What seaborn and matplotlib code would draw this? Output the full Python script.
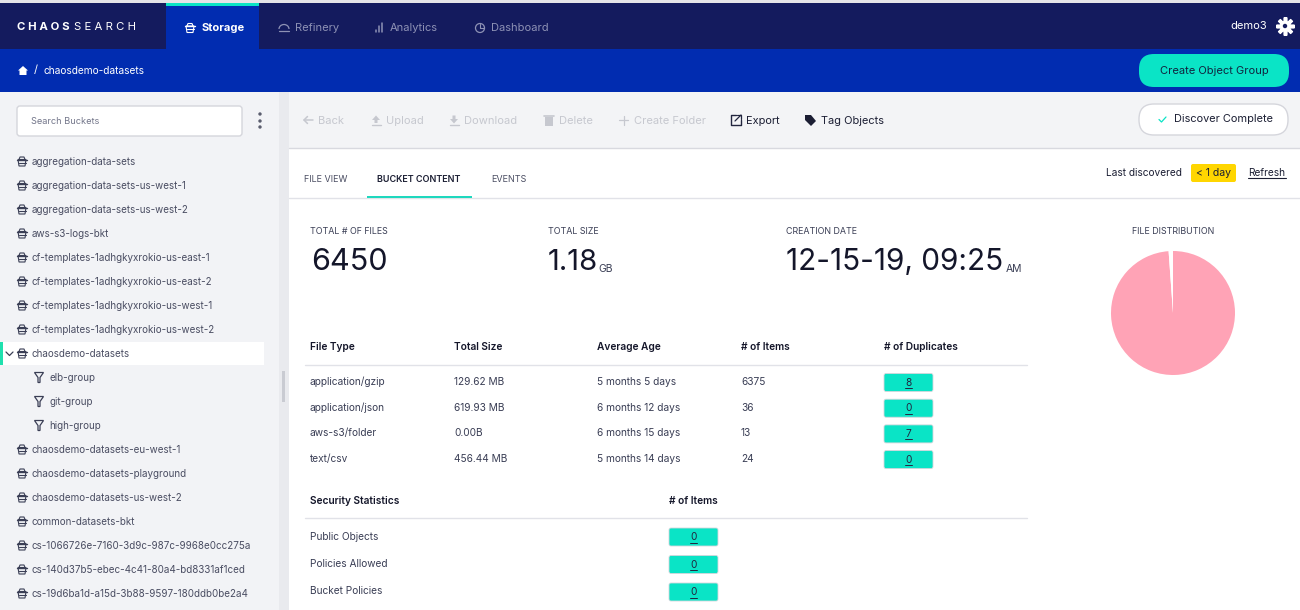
import matplotlib
matplotlib.use('Agg')
import matplotlib.pyplot as plt
import seaborn as sns
from matplotlib.patches import Rectangle, FancyBboxPatch, Circle, Polygon, Arc

bucket_names = ['aggregation-data-sets', 'aggregation-data-sets-us-west-1', 'aggregation-data-sets-us-west-2',
                'aws-s3-logs-bkt', 'cf-templates-1adhgkyxrokio-us-east-1', 'cf-templates-1adhgkyxrokio-us-east-2',
                'cf-templates-1adhgkyxrokio-us-west-1', 'cf-templates-1adhgkyxrokio-us-west-2', 'chaosdemo-datasets',
                'elb-group', 'git-group', 'high-group', 'chaosdemo-datasets-eu-west-1',
                'chaosdemo-datasets-playground', 'chaosdemo-datasets-us-west-2', 'common-datasets-bkt',
                'cs-1066726e-7160-3d9c-987c-9968e0cc275a', 'cs-140d37b5-ebec-4c41-80a4-bd8331af1ced',
                'cs-19d6ba1d-a15d-3b88-9597-180ddb0be2a4']
group_names = ['elb-group', 'git-group', 'high-group']
file_types = ['application/gzip', 'application/json', 'aws-s3/folder', 'text/csv']
total_sizes = ['129.62 MB', '619.93 MB', '0.00B', '456.44 MB']
average_ages = ['5 months 5 days', '6 months 12 days', '6 months 15 days', '5 months 14 days']
item_counts = [6375, 36, 13, 24]
duplicates = ['8', '0', '7', '0']
security_labels = ['Public Objects', 'Policies Allowed', 'Bucket Policies']
security_items = ['0', '0', '0']
pie_colors = ['#FFA3B6', '#FFFFFF', '#FFFFFF', '#FFFFFF']

sns.set_theme(style='white')
plt.rcParams['font.family'] = ['Inter', 'DejaVu Sans']

NAVY = '#141B5E'
BLUE = '#012CB0'
TEAL = '#0AE4C6'
DARK = '#22263F'
GREY = '#C6C8CF'
LINE = '#E1E2E8'

fig = plt.figure(figsize=(13, 6.1), dpi=100, facecolor='white')
ax = fig.add_axes([0, 0, 1, 1])
ax.set_xlim(0, 1300)
ax.set_ylim(610, 0)
ax.axis('off')


def box(x, y, w, h, color, z=1):
    ax.add_patch(Rectangle((x, y), w, h, fc=color, ec='none', zorder=z))


def rounded(x, y, w, h, r, fc, ec='none', lw=1):
    ax.add_patch(FancyBboxPatch((x + r, y + r), w - 2 * r, h - 2 * r, boxstyle=f'round,pad={r}',
                                fc=fc, ec=ec, lw=lw, zorder=2))


def label(x, y, s, size=7.3, color=DARK, weight='normal', ha='left', **kw):
    return ax.text(x, y + 1, s, fontsize=size, color=color, fontweight=weight, ha=ha, va='center', zorder=4, **kw)


def stroke(xs, ys, color=DARK, lw=1):
    ax.plot(xs, ys, color=color, lw=lw, zorder=4, solid_capstyle='round')


def bucket_icon(x, y, color='#3A3E55'):
    stroke([x - 5, x + 5], [y - 2, y - 2], color, 1)
    ax.add_patch(Polygon([(x - 4, y - 2), (x + 4, y - 2), (x + 3, y + 4.5), (x - 3, y + 4.5)],
                         fc='none', ec=color, lw=0.8, zorder=4))
    stroke([x - 3.5, x + 3.5], [y + 1, y + 1], color, 0.8)
    stroke([x - 3, x - 2, x + 2, x + 3], [y - 2, y - 4.5, y - 4.5, y - 2], color, 0.8)


def funnel_icon(x, y, color='#3A3E55'):
    ax.add_patch(Polygon([(x - 4.5, y - 5), (x + 4.5, y - 5), (x + 1, y), (x + 1, y + 5), (x - 1, y + 5), (x - 1, y)],
                         fc='none', ec=color, lw=0.9, zorder=4))


# page blocks
box(0, 0, 1300, 3, '#E4E4E8')
box(0, 3, 1300, 46, NAVY)
box(166, 3, 93, 46, BLUE)
box(166, 3, 93, 3, TEAL, 2)
box(0, 49, 1300, 43, BLUE)
box(0, 92, 279, 518, '#F2F3F6')
box(279, 92, 10, 518, '#E9EAEE')
box(282, 371, 3, 31, '#C9CBD2', 2)
box(289, 92, 1011, 56, '#F3F4F6')
ax.plot([289, 1300], [148, 148], color='#D8D9DF', lw=1, zorder=2)
ax.plot([289, 1300], [198, 198], color=LINE, lw=1, zorder=2)

# nav bar
label(17, 26, 'C H A O S', 8.2, 'white', 'bold')
label(74, 26, 'S E A R C H', 8.2, 'white')
bucket_icon(190, 28, 'white')
label(202, 27, 'Storage', 8, 'white', 'bold')
nav_color = '#8E92B5'
ax.add_patch(Arc((284, 29), 10, 9, theta1=180, theta2=360, color=nav_color, lw=0.9, zorder=4))
stroke([279, 289], [31, 31], nav_color, 0.9)
label(295, 27, 'Refinery', 8, nav_color)
for dx, top in zip([376, 379, 382], [30, 26, 23]):
    stroke([dx, dx], [top, 32], nav_color, 1.1)
label(390, 27, 'Analytics', 8, nav_color)
ax.add_patch(Circle((480, 28), 4.5, fc='none', ec=nav_color, lw=0.9, zorder=4))
stroke([480, 480, 484], [24, 28, 28], nav_color, 0.8)
label(491, 27, 'Dashboard', 8, nav_color)
label(1267, 25, 'demo3', 8, 'white', ha='right')
ax.plot([1285], [26], marker=(8, 2, 0), ms=13, mew=2.6, color='white', zorder=4)
ax.add_patch(Circle((1285, 26), 5, fc='white', ec='none', zorder=4))
ax.add_patch(Circle((1285, 26), 2.2, fc=NAVY, ec='none', zorder=5))

# breadcrumb
ax.add_patch(Polygon([(18, 70.5), (23, 66), (28, 70.5), (26.5, 70.5), (26.5, 75), (19.5, 75), (19.5, 70.5)],
                     fc='white', ec='none', zorder=4))
label(34, 69, '/', 8, 'white')
label(43, 69.5, 'chaosdemo-datasets', 7.3, 'white')
rounded(1139, 54, 150, 33, 15, TEAL)
label(1214, 70, 'Create Object Group', 8, '#11243F', ha='center')

# sidebar
rounded(17, 106, 225, 30, 3, 'white', '#D5D6DC')
label(31, 120.5, 'Search Buckets', 6.6, '#73768A')
for yy in [114, 121, 127]:
    ax.add_patch(Circle((260, yy), 1.7, fc='#5A5D6E', ec='none', zorder=4))
box(3, 342, 261, 23, 'white')
box(0, 342, 3, 23, '#1FE0AE', 2)
stroke([6, 9.5, 13], [352, 355.5, 352], '#3A3E55', 0.9)
for i, name in enumerate(bucket_names):
    yy = 161 + i * 24
    if name in group_names:
        funnel_icon(39, yy + 0.5)
        label(49, yy, name, 7.1, '#4A4D62')
    else:
        bucket_icon(22, yy + 0.5)
        label(32, yy, name, 7.1, '#4A4D62')

# toolbar
stroke([304, 313], [120, 120], GREY, 1.1)
stroke([307.5, 304, 307.5], [116.5, 120, 123.5], GREY, 1.1)
label(318, 119.5, 'Back', 8, GREY)
ax.add_patch(Polygon([(372, 120), (376, 115.5), (380, 120), (377.5, 120), (377.5, 123), (374.5, 123), (374.5, 120)],
                     fc=GREY, ec='none', zorder=4))
stroke([371.5, 380.5], [125, 125], GREY, 1)
label(386, 119.5, 'Upload', 8, GREY)
ax.add_patch(Polygon([(450, 119), (454, 123.5), (458, 119), (455.5, 119), (455.5, 115.5), (452.5, 115.5), (452.5, 119)],
                     fc=GREY, ec='none', zorder=4))
stroke([449.5, 458.5], [125, 125], GREY, 1)
label(464, 119.5, 'Download', 8, GREY)
box(545, 117, 8, 9, GREY, 4)
stroke([544, 554], [115.5, 115.5], GREY, 1.2)
label(559, 119.5, 'Delete', 8, GREY)
stroke([619, 628], [120, 120], GREY, 0.9)
stroke([623.5, 623.5], [115.5, 124.5], GREY, 0.9)
label(634, 119.5, 'Create Folder', 8, GREY)
stroke([736, 731, 731, 741, 741], [115, 115, 125, 125, 120], DARK, 1)
stroke([735, 741], [121, 115], DARK, 0.9)
stroke([737, 741, 741], [115, 115, 119], DARK, 0.9)
label(746, 119.5, 'Export', 7.9, '#1B1E33')
ax.add_patch(Polygon([(805, 115), (811, 115), (816, 121), (811, 126), (805, 120)], fc='#1B1E33', ec='none', zorder=4))
label(821, 119.5, 'Tag Objects', 7.9, '#1B1E33')
rounded(1139, 104, 149, 31, 15, 'white', '#D5D6DC')
stroke([1159, 1161.5, 1166], [119.5, 122, 117], TEAL, 0.9)
label(1174, 118.5, 'Discover Complete', 7.9, '#1B1E33')

# tabs
label(304, 179, 'FILE VIEW', 6.5, '#4A4D62')
label(377, 179, 'BUCKET CONTENT', 6.5, '#1B1E33', 'semibold')
label(491, 179, 'EVENTS', 6.5, '#4A4D62')
box(367, 196, 105, 2, '#1FD8BE', 3)
label(1106, 172, 'Last discovered', 7.3, '#1B1E33')
rounded(1191, 164, 45, 18, 2, '#FFD600')
label(1213.5, 172, '< 1 day', 7.5, '#1B1E33', ha='center')
label(1248, 172, 'Refresh', 7.3, '#1B1E33')
ax.plot([1248, 1286], [178, 178], color='#1B1E33', lw=0.8, zorder=4)

# summary numbers
label(310, 230, 'TOTAL # OF FILES', 6.4, '#3A3E55')
label(548, 230, 'TOTAL SIZE', 6.4, '#3A3E55')
label(786, 230, 'CREATION DATE', 6.4, '#3A3E55')
label(311, 261, '6450', 22, '#14162A')
label(548, 261, '1.18', 21, '#14162A')
label(598, 268, 'GB', 7.5, '#3A3E55')
label(786, 261, '12-15-19, 09:25', 21.4, '#14162A')
label(1006, 268, 'AM', 7.5, '#3A3E55')
label(1173, 230, 'FILE DISTRIBUTION', 6.4, '#3A3E55', ha='center')

# file type table
columns = ['File Type', 'Total Size', 'Average Age', '# of Items', '# of Duplicates']
col_x = [310, 454, 597, 741, 884]
for cx, name in zip(col_x, columns):
    label(cx, 346, name, 7.3, '#14162A', 'semibold')
ax.plot([305, 1027], [365, 365], color=LINE, lw=1, zorder=2)
for i in range(len(file_types)):
    yy = 382 + i * 25.7
    label(col_x[0], yy - 1, file_types[i], 7.3, '#3A3E55')
    label(col_x[1], yy - 1, total_sizes[i], 7.3, '#3A3E55')
    label(col_x[2], yy - 1, average_ages[i], 7.3, '#3A3E55')
    label(col_x[3], yy - 1, str(item_counts[i]), 7.3, '#3A3E55')
    rounded(884, yy - 8.5, 49, 18, 2, TEAL, '#D5D6DC', 0.6)
    label(908.5, yy - 0.5, duplicates[i], 7.3, '#22263F', ha='center')
    ax.plot([905, 912], [yy + 6, yy + 6], color='#22263F', lw=0.7, zorder=4)

# security table
label(310, 500, 'Security Statistics', 7.3, '#14162A', 'semibold')
label(669, 500, '# of Items', 7.3, '#14162A', 'semibold')
ax.plot([305, 1027], [518, 518], color=LINE, lw=1, zorder=2)
for i, name in enumerate(security_labels):
    yy = 536.5 + i * 27.5
    label(310, yy - 1, name, 7.3, '#3A3E55')
    rounded(669, yy - 8.5, 49, 18, 2, TEAL, '#D5D6DC', 0.6)
    label(693.5, yy - 0.5, security_items[i], 7.3, '#22263F', ha='center')
    ax.plot([690, 697], [yy + 6, yy + 6], color='#22263F', lw=0.7, zorder=4)

# pie, centre 1173,313 radius 62 px
pie_ax = fig.add_axes([(1173 - 62) / 1300, 1 - (313 + 62) / 610, 124 / 1300, 124 / 610])
pie_ax.pie(item_counts, colors=pie_colors, startangle=90, counterclock=False, radius=1,
           wedgeprops={'linewidth': 0})
pie_ax.set_xlim(-1, 1)
pie_ax.set_ylim(-1, 1)

fig.savefig('out.png', dpi=100)
